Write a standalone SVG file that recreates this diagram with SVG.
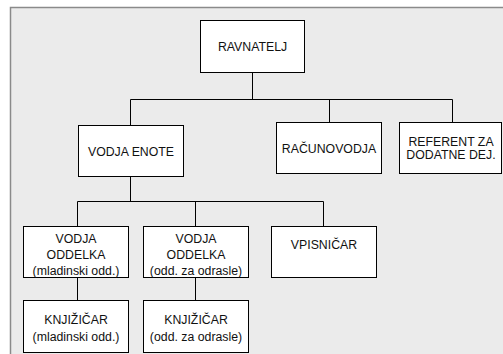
<svg xmlns="http://www.w3.org/2000/svg" width="503" height="354" viewBox="0 0 503 354">
<style>
.box{fill:#fff;stroke:#000;stroke-width:1}
.ln{stroke:#000;stroke-width:1;fill:none}
text{font-family:"Liberation Sans",Arial,sans-serif;font-size:12.3px;fill:#111;text-anchor:middle}
</style>
<rect x="0" y="0" width="503" height="354" fill="#fff"/>
<rect x="10.5" y="7.5" width="500" height="360" fill="#ebebeb" stroke="#8a8a8a" stroke-width="1.5"/>
<g id="connectors">
<path class="ln" d="M252.5 72V99.5M130.5 99.5H452.5M130.5 99.5V125M329.5 99.5V122M452.5 99.5V122"/>
<path class="ln" d="M130.5 176V201.5M77.5 201.5H323.5M77.5 201.5V226M195.5 201.5V226M323.5 201.5V226"/>
<path class="ln" d="M77.5 277V300M195.5 277V300"/>
</g>
<g id="ravnatelj"><rect class="box" x="200.5" y="20.5" width="104" height="52"/><text x="252.5" y="51">RAVNATELJ</text></g>
<g id="vodja-enote"><rect class="box" x="78.5" y="125.5" width="105" height="51"/><text x="131" y="156">VODJA ENOTE</text></g>
<g id="racunovodja"><rect class="box" x="276.5" y="122.5" width="105" height="51"/><text x="329" y="153">RAČUNOVODJA</text></g>
<g id="referent"><rect class="box" x="399.5" y="122.5" width="102" height="51"/><text x="451" y="146">REFERENT ZA</text><text x="451" y="159">DODATNE DEJ.</text></g>
<g id="vodja-oddelka-mlad"><rect class="box" x="23.5" y="226.5" width="105" height="51"/><text x="76" y="243">VODJA</text><text x="76" y="259">ODDELKA</text><text x="76" y="275">(mladinski odd.)</text></g>
<g id="vodja-oddelka-odr"><rect class="box" x="143.5" y="226.5" width="105" height="51"/><text x="196" y="243">VODJA</text><text x="196" y="259">ODDELKA</text><text x="196" y="275">(odd. za odrasle)</text></g>
<g id="vpisnicar"><rect class="box" x="271.5" y="226.5" width="105" height="51"/><text x="324" y="249">VPISNIČAR</text></g>
<g id="knjizicar-mlad"><rect class="box" x="23.5" y="300.5" width="105" height="52"/><text x="76" y="324">KNJIŽIČAR</text><text x="76" y="341">(mladinski odd.)</text></g>
<g id="knjizicar-odr"><rect class="box" x="143.5" y="300.5" width="105" height="52"/><text x="196" y="324">KNJIŽIČAR</text><text x="196" y="341">(odd. za odrasle)</text></g>
</svg>
